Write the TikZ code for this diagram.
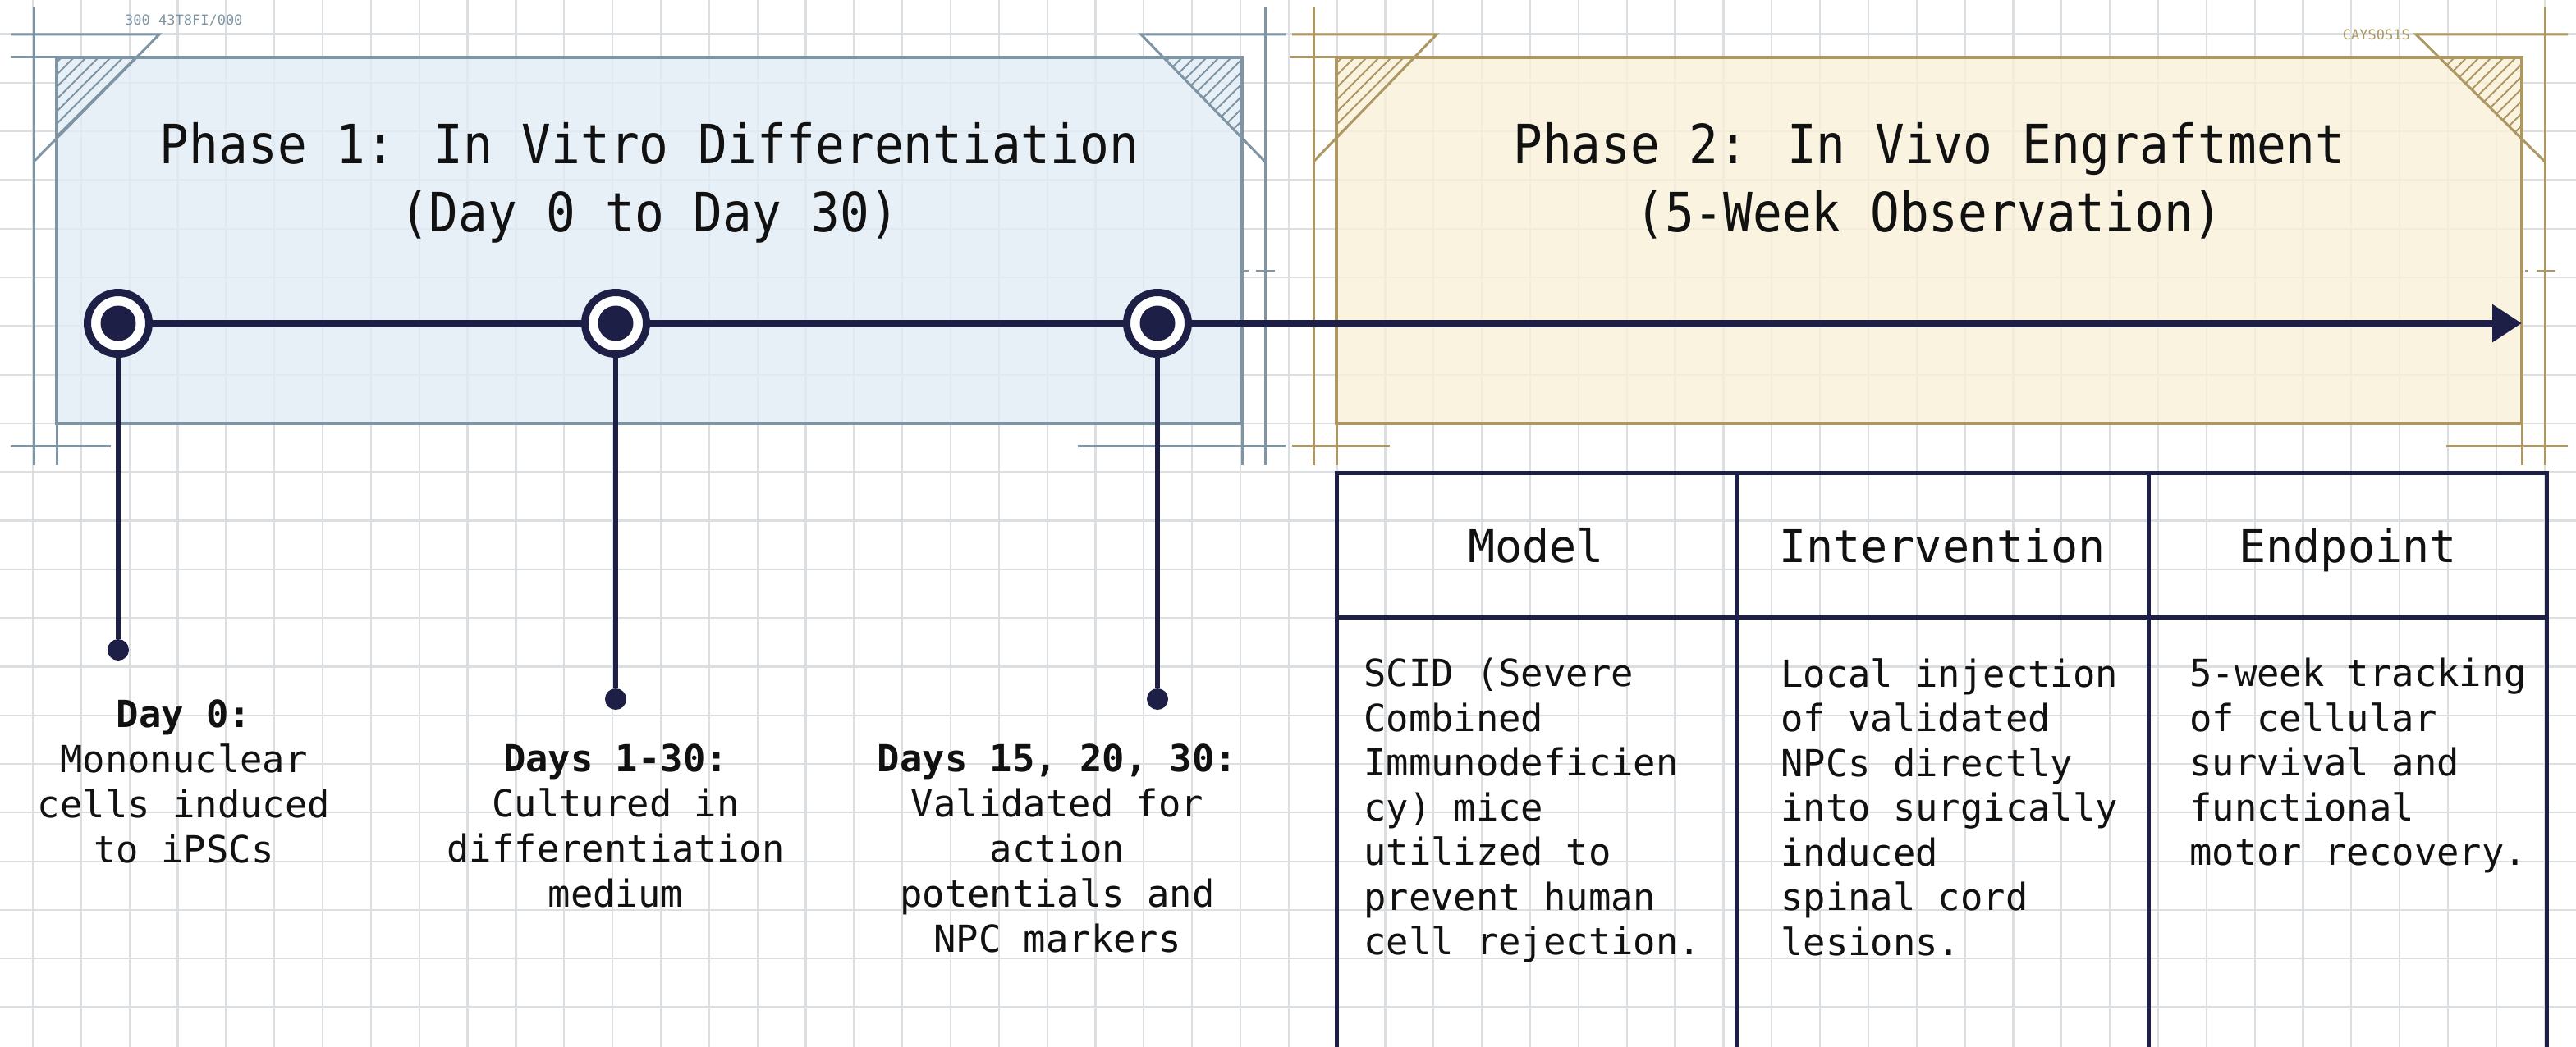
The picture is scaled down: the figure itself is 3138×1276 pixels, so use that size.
\documentclass[tikz,border=0pt]{standalone}
\usepackage{fontspec}
\setmonofont{DejaVu Sans Mono}
\newfontfamily\titlemono[FakeStretch=0.9]{DejaVu Sans Mono}
\usetikzlibrary{arrows.meta}
\definecolor{navy}{HTML}{1E1F46}
\definecolor{gridc}{HTML}{DCDFE2}
\definecolor{pafill}{HTML}{E2ECF5}
\definecolor{paedge}{HTML}{7F95A3}
\definecolor{pbfill}{HTML}{F9F0D8}
\definecolor{pbedge}{HTML}{AD9762}
\definecolor{inkc}{HTML}{111111}
\tikzset{
  pamark/.style={draw=paedge, line width=3},
  pbmark/.style={draw=pbedge, line width=3},
  milestone/.style={circle, draw=navy, line width=9pt, fill=white, minimum size=75pt, inner sep=0pt,
    path picture={\fill[navy] (path picture bounding box.center) circle (21.5pt);}},
  enddot/.style={circle, fill=navy, minimum size=26pt, inner sep=0pt},
  drop/.style={draw=navy, line width=6},
  lbl/.style={font=\ttfamily\fontsize{45.5}{55}\selectfont, align=center, inner sep=0pt, text=inkc},
  ttl/.style={font=\titlemono\fontsize{66}{83}\selectfont, align=center, inner sep=0pt, text=inkc},
  hdr/.style={font=\ttfamily\fontsize{55}{60}\selectfont, inner sep=0pt, text=inkc, anchor=base},
  cellbody/.style={font=\ttfamily\fontsize{45.5}{54.5}\selectfont, align=left, inner sep=0pt, text=inkc, anchor=north west},
  tline/.style={draw=navy, line width=5},
  tiny/.style={font=\ttfamily\fontsize{17}{17}\selectfont, inner sep=0pt}
}
\begin{document}
\begin{tikzpicture}[x=1pt,y=-1pt]
\useasboundingbox (0,0) rectangle (3138,1276);
\fill[white] (0,0) rectangle (3138,1276);
% grid
\foreach \i in {0,...,52} \draw[gridc, line width=2.2] ({40+58.84*\i},0) -- ({40+58.84*\i},1276);
\foreach \j in {0,...,21} \draw[gridc, line width=2.2] (0,{41.5+59.3*\j}) -- (3138,{41.5+59.3*\j});
% phase boxes fill
\fill[pafill, fill opacity=0.8] (69,70) rectangle (1513,516);
\fill[pbfill, fill opacity=0.8] (1628,70) rectangle (3072,516);
% hatching
\begin{scope}
\clip (69,70) -- (165,70) -- (69,168) -- cycle;
\foreach \x in {-70,-55,...,180} \draw[paedge, line width=2] (\x,200) -- ({\x+150},50);
\end{scope}
\begin{scope}
\clip (1513,70) -- (1417,70) -- (1513,168) -- cycle;
\foreach \x in {1280,1295,...,1530} \draw[paedge, line width=2] (\x,200) -- ({\x+150},50);
\end{scope}
\begin{scope}
\clip (1628,70) -- (1722,70) -- (1628,167) -- cycle;
\foreach \x in {1490,1505,...,1740} \draw[pbedge, line width=2] (\x,200) -- ({\x+150},50);
\end{scope}
\begin{scope}
\clip (3072,70) -- (2971,70) -- (3072,169) -- cycle;
\foreach \x in {2830,2845,...,3090} \draw[pbedge, line width=2] (\x,200) -- ({\x+150},50);
\end{scope}
% phase 1 marks
\draw[pamark] (41,8) -- (41,567);
\draw[pamark] (13,42) -- (194,42) -- (41,197);
\draw[pamark] (13,70) -- (69,70);
\draw[pamark] (69,516) -- (69,567);
\draw[pamark] (13,543) -- (135,543);
\draw[pamark] (1541,8) -- (1541,567);
\draw[pamark] (1566,42) -- (1390,42) -- (1541,197);
\draw[pamark] (1513,516) -- (1513,567);
\draw[pamark] (1313,543) -- (1566,543);
\draw[paedge, line width=2] (1516,330) -- (1521,330);
\draw[paedge, line width=2] (1530,330) -- (1553,330);
\draw[paedge, line width=4] (69,70) rectangle (1513,516);
% phase 2 marks
\draw[pbmark] (1600,8) -- (1600,567);
\draw[pbmark] (1574,42) -- (1750,42) -- (1600,197);
\draw[pbmark] (1571,70) -- (1628,70);
\draw[pbmark] (1628,516) -- (1628,567);
\draw[pbmark] (1574,543) -- (1693,543);
\draw[pbmark] (3100,8) -- (3100,567);
\draw[pbmark] (3128,42) -- (2943,42) -- (3100,197);
\draw[pbmark] (3072,516) -- (3072,567);
\draw[pbmark] (2980,543) -- (3128,543);
\draw[pbedge, line width=2] (3076,330) -- (3080,330);
\draw[pbedge, line width=2] (3090,330) -- (3113,330);
\draw[pbedge, line width=4] (1628,70) rectangle (3072,516);
% small corner texts
\node[tiny, text=paedge, anchor=west] (ca) at (152,25) {300 43T8FI/000};
\node[tiny, text=pbedge, anchor=east] (cb) at (2936,42) {CAYS0S1S};
% titles
\node[ttl, anchor=north] (t1) at (791,149) {Phase 1: In Vitro Differentiation\\(Day 0 to Day 30)};
\node[ttl, anchor=north] (t2) at (2350,149) {Phase 2: In Vivo Engraftment\\(5-Week Observation)};
% timeline
\node[milestone] (m1) at (144,394) {};
\node[milestone] (m2) at (750,394) {};
\node[milestone] (m3) at (1410,394) {};
\coordinate (tend) at (3072,394);
\draw[navy, line width=9, -{Triangle[length=36pt,width=44pt]}] (m1) -- (m2) -- (m3) -- (tend);
\node[enddot] (d1) at (144,792) {};
\node[enddot] (d2) at (750,852) {};
\node[enddot] (d3) at (1410,852) {};
\draw[drop] (m1) -- (d1);
\draw[drop] (m2) -- (d2);
\draw[drop] (m3) -- (d3);
% labels
\node[lbl, anchor=north] (l1) at (224,853) {\textbf{Day 0:}\\Mononuclear\\cells induced\\to iPSCs};
\node[lbl, anchor=north] (l2) at (750,907) {\textbf{Days 1-30:}\\Cultured in\\differentiation\\medium};
\node[lbl, anchor=north] (l3) at (1288,907) {\textbf{Days 15, 20, 30:}\\Validated for\\action\\potentials and\\NPC markers};
% table
\draw[tline] (1628,1280) -- (1628,576) -- (3102,576) -- (3102,1280);
\draw[tline] (1628,752) -- (3102,752);
\draw[tline] (2115,576) -- (2115,1280);
\draw[tline] (2617,576) -- (2617,1280);
\node[hdr] (h1) at (1871,685) {Model};
\node[hdr] (h2) at (2366,685) {Intervention};
\node[hdr] (h3) at (2860,685) {Endpoint};
\node[cellbody] (b1) at (1661,802) {SCID (Severe\\Combined\\Immunodeficien\\cy) mice\\utilized to\\prevent human\\cell rejection.};
\node[cellbody] (b2) at (2169,802) {Local injection\\of validated\\NPCs directly\\into surgically\\induced\\spinal cord\\lesions.};
\node[cellbody] (b3) at (2667,802) {5-week tracking\\of cellular\\survival and\\functional\\motor recovery.};
\end{tikzpicture}
\end{document}
